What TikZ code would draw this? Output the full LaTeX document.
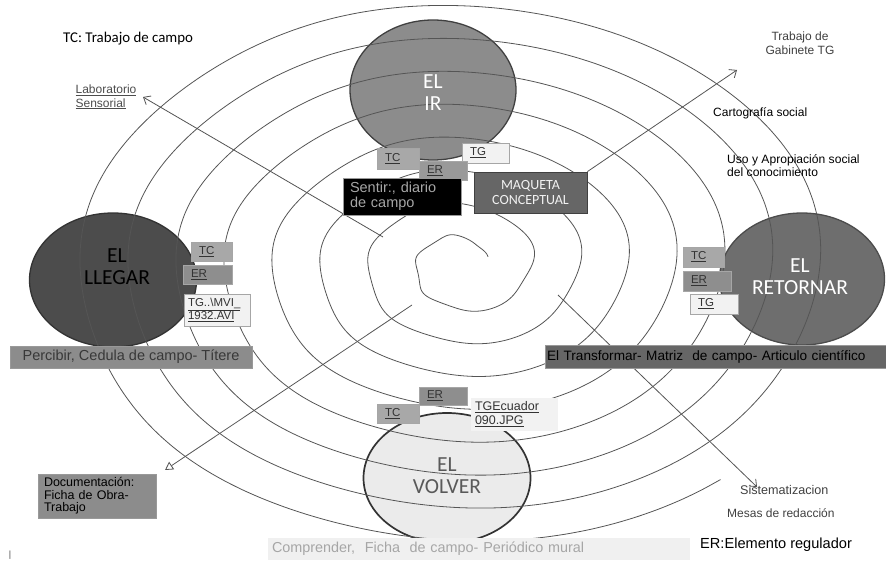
\documentclass[tikz,border=0pt]{standalone}
\usepackage{fontspec}
\setmainfont{Liberation Sans}
\newfontfamily\calib{Carlito}
\usetikzlibrary{shapes.geometric,arrows.meta}
\definecolor{spir}{HTML}{555555}
\definecolor{tcgray}{HTML}{A8A8A8}
\definecolor{ergray}{HTML}{8E8E8E}
\definecolor{tglight}{HTML}{F2F2F2}
\definecolor{midgray}{HTML}{8C8C8C}
\definecolor{dkgray}{HTML}{666666}
\begin{document}
\begin{tikzpicture}[x=1pt,y=-1pt,
  circ/.style={ellipse,draw=#1,line width=1.3pt,inner sep=0pt},
  circtext/.style={font=\calib\fontsize{21.5}{22}\selectfont,align=center,inner sep=0pt},
  tag/.style={draw=gray!70,line width=0.4pt,inner ysep=0pt,inner xsep=8pt,align=left,
     font=\fontsize{11.5}{13}\selectfont,text=black!80},
  bigbox/.style={draw=gray!80,line width=0.5pt,inner ysep=0pt,inner xsep=8pt},
  plain/.style={inner sep=1pt,font=\fontsize{12}{13.5}\selectfont},
  spiral/.style={draw=spir,line width=0.8pt},
  arr/.style={draw=spir,line width=0.8pt,-{Straight Barb[length=6pt,width=10pt]}},
  arrtri/.style={draw=spir,line width=0.8pt,-{Triangle[open,length=8pt,width=9pt]}}]
\useasboundingbox (0,0) rectangle (886,561);

% circles
\node[circ=black!75,fill=midgray,minimum width=166,minimum height=140] (ir) at (433,90) {};
\node[circ=black!80,fill=black!70,minimum width=167,minimum height=134] (llegar) at (113,280) {};
\node[circ=black!70,fill=black!57,minimum width=165,minimum height=132] (retornar) at (802,279) {};
\node[circ=black!80,fill=black!8,line width=1.7pt,minimum width=167,minimum height=130] (volver) at (447,478) {};

% spiral
\draw[spiral] plot[domain=20:2830,samples=800,smooth,variable=\t]
  ({462 + (22 + (\t/360)*48 + 3*sin(5*\t))*cos(\t)},
   {265 - (20 + (\t/360)*33 + 2*sin(4*\t))*sin(\t)});

% circle labels
\node[circtext,text=white] (irt) at (433,93) {EL\\IR};
\node[circtext,text=black] (llegart) at (117,267) {EL\\LLEGAR};
\node[circtext,text=white] (retornart) at (800,277) {EL\\RETORNAR};
\node[circtext,text=black!65] (volvert) at (447,476) {EL\\VOLVER};

% arrows
\coordinate (labstart) at (383,237);
\coordinate (labtip) at (143,97);
\coordinate (tgtip) at (737,70);
\coordinate (docstart) at (412,305);
\coordinate (doctip) at (165,470);
\coordinate (sisstart) at (558,295);
\coordinate (sistip) at (757,487);
\draw[arr] (labstart) -- (labtip);
\draw[arrtri] (docstart) -- (doctip);
\draw[arr] (sisstart) -- (sistip);

% EL IR boxes
\node[tag,fill=tcgray,minimum width=42,minimum height=21,text width=26] (irtc) at (398,158.5) {\underline{TC}};
\node[tag,fill=tglight,minimum width=47,minimum height=20,text width=31] (irtg) at (485.5,153) {\underline{TG}};
\node[tag,fill=ergray!90,minimum width=48,minimum height=19,text width=32] (irer) at (443,170.5) {\underline{ER}};
\node[bigbox,fill=black,minimum width=118,minimum height=37,text width=104,inner xsep=7pt,align=left,
  font=\fontsize{14.5}{14.5}\selectfont,text=black!35] (sentir) at (402,196.5) {Sentir:, diario\\de campo};
\node[bigbox,draw=black!75,line width=0.8pt,fill=dkgray,minimum width=113,minimum height=41,align=center,
  font=\calib\fontsize{14}{15.5}\selectfont,text=black!5] (maq) at (530.5,192.5) {MAQUETA\\CONCEPTUAL};
\draw[arr] (maq.north east) -- (tgtip);

% EL LLEGAR boxes
\node[tag,fill=tcgray,minimum width=41,minimum height=19,text width=25] (lltc) at (211.5,251.5) {\underline{TC}};
\node[tag,fill=ergray,minimum width=49,minimum height=19,text width=33] (ller) at (207.5,274.5) {\underline{ER}};
\node[tag,fill=tglight,minimum width=66,minimum height=32,text width=58,inner xsep=4pt] (lltg) at (217,310)
  {\underline{TG..\textbackslash MVI\_}\\\underline{1932.AVI}};
\node[bigbox,fill=midgray,minimum width=242,minimum height=22,
  font=\fontsize{14.5}{16}\selectfont,text=black!78] (percibir) at (131,357) {Percibir, Cedula de campo- Títere};

% EL RETORNAR boxes
\node[tag,fill=tcgray,minimum width=41,minimum height=20,text width=25] (rttc) at (703.5,257) {\underline{TC}};
\node[tag,fill=ergray,minimum width=48,minimum height=20,text width=32] (rter) at (707,281) {\underline{ER}};
\node[tag,fill=tglight,minimum width=48,minimum height=20,text width=32] (rttg) at (714,304) {\underline{TG}};
\node[bigbox,fill=dkgray,minimum width=341,minimum height=23,text width=337,inner xsep=2pt,align=left,
  font=\fontsize{13.6}{15}\selectfont,text=black] (transf) at (715.5,356.5) {El Transformar- Matriz\ \ de campo- Articulo científico};

% EL VOLVER boxes
\node[tag,fill=ergray,minimum width=48,minimum height=18,text width=32] (voer) at (443,396) {\underline{ER}};
\node[tag,fill=tcgray,minimum width=42,minimum height=19,text width=26] (votc) at (398,413.5) {\underline{TC}};
\node[tag,draw=none,fill=tglight,minimum width=87,minimum height=33,text width=79,inner xsep=4pt,
  font=\fontsize{12.5}{14}\selectfont] (votg) at (514.5,414.5) {\underline{TGEcuador}\\\underline{090.JPG}};
\node[bigbox,draw=none,fill=black!6,minimum width=422,minimum height=22,text width=414,inner xsep=4pt,align=left,
  font=\fontsize{14.4}{16}\selectfont,text=black!35] (compr) at (479,549) {Comprender,\ \ Ficha\ \ de campo- Periódico mural};

% Documentacion
\node[bigbox,fill=midgray,minimum width=118,minimum height=44,text width=106,inner xsep=6pt,align=left,
  font=\fontsize{12.5}{12.5}\selectfont,text=black] (doc) at (97,496) {Documentación:\\Ficha de Obra-\\Trabajo};

% free texts
\node[plain,anchor=west,font=\calib\fontsize{14.9}{16}\selectfont] (tcleg) at (62,39) {TC: Trabajo de campo};
\node[plain,align=left,text=black!70] (lab) at (106,97) {\underline{Laboratorio}\\\underline{Sensorial}};
\node[plain,align=center,text=black!75] (gab) at (800,43) {Trabajo de\\Gabinete TG};
\node[plain,anchor=west,text=black] (carto) at (712,113) {Cartografía social};
\node[plain,anchor=west,align=left,text=black,font=\fontsize{12.1}{13}\selectfont] (uso) at (726,166) {Uso y Apropiación social\\del conocimiento};
\node[plain,anchor=west,text=black!75,font=\fontsize{12.6}{14}\selectfont] (sist) at (739,490) {Sistematizacion};
\node[plain,anchor=west,text=black!75] (mesas) at (726,513) {Mesas de redacción};
\node[plain,anchor=west,text=black,font=\fontsize{14.6}{16}\selectfont] (erleg) at (699,545) {ER:Elemento regulador};
\node[plain,text=black!70,font=\fontsize{9}{10}\selectfont] (bar) at (10,555) {|};
\end{tikzpicture}
\end{document}
